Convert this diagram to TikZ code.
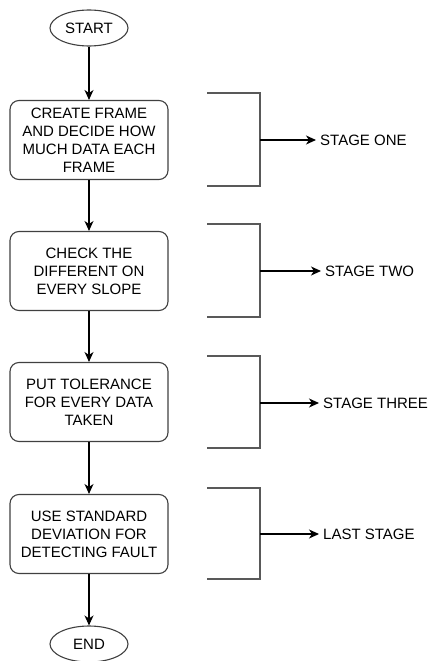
\documentclass[tikz,border=0pt]{standalone}
\usepackage{fontspec}
\setmainfont{Liberation Sans}
\usetikzlibrary{shapes.geometric,arrows.meta}

\begin{document}
\begin{tikzpicture}[x=1pt,y=-1pt,
        font=\fontsize{15}{18}\selectfont,
        term/.style={draw=black!75,line width=1.1pt,ellipse,minimum width=78pt,minimum height=36pt,inner sep=0pt},
        stepbox/.style={draw=black!75,line width=1.1pt,rounded corners=9pt,minimum width=158pt,minimum height=79pt,align=center,inner sep=2pt},
        flow/.style={-{Stealth[length=10pt,width=9pt,inset=3pt]},line width=1.1pt},
        brace/.style={draw=black!65,line width=1.1pt},
        label/.style={anchor=west,inner sep=4pt}]
        % Page
        \useasboundingbox (0,0) rectangle (432,661);
        
        % Start and end
        \node[term] (start) at (89,28) {START};
        \node[term] (end) at (89,644) {END};
        
        % Steps
        \node[stepbox] (frame) at (89,140) {CREATE FRAME\\AND DECIDE HOW\\MUCH DATA EACH\\FRAME};
        \node[stepbox] (slope) at (89,271) {CHECK THE\\DIFFERENT ON\\EVERY SLOPE};
        \node[stepbox] (tol) at (89,402) {PUT TOLERANCE\\FOR EVERY DATA\\TAKEN};
        \node[stepbox] (dev) at (89,534) {USE STANDARD\\DEVIATION FOR\\DETECTING FAULT};
        
        % Flow
        \draw[flow] (start) -- (frame);
        \draw[flow] (frame) -- (slope);
        \draw[flow] (slope) -- (tol);
        \draw[flow] (tol) -- (dev);
        \draw[flow] (dev) -- (end);
        
        % Stage brackets
        \draw[brace] (207,93) -- (260,93) -- (260,186) -- (207,186);
        \draw[brace] (207,224) -- (260,224) -- (260,317) -- (207,317);
        \draw[brace] (207,356) -- (260,356) -- (260,448) -- (207,448);
        \draw[brace] (207,488) -- (260,488) -- (260,579) -- (207,579);
        \coordinate (b1) at (260,140);
        \coordinate (b2) at (260,271);
        \coordinate (b3) at (260,403);
        \coordinate (b4) at (260,534);
        
        % Stage labels
        \node[label] (one) at (316,140) {STAGE ONE};
        \node[label] (two) at (321,271) {STAGE TWO};
        \node[label] (three) at (319,403) {STAGE THREE};
        \node[label] (last) at (319,534) {LAST STAGE};
        
        \draw[flow] (b1) -- (one.west);
        \draw[flow] (b2) -- (two.west);
        \draw[flow] (b3) -- (three.west);
        \draw[flow] (b4) -- (last.west);
    \end{tikzpicture}
\end{document}
